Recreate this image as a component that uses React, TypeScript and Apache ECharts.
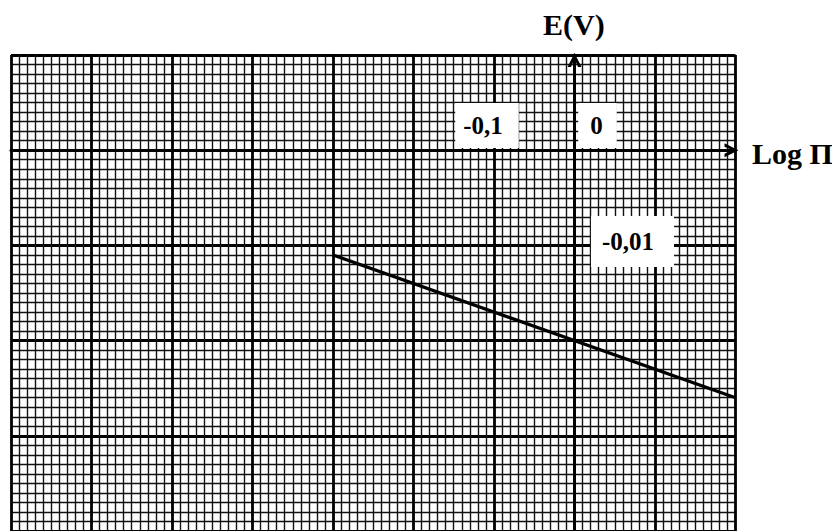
import React, { useEffect, useRef } from "react";
import * as echarts from "echarts";

// Axis ranges (Log Π on x, E in volts on y)
const xRange = [-0.7, 0.2];
const yRange = [-0.04, 0.01];
const xStep = 0.1;
const yStep = 0.01;

// The plotted straight line E = f(Log Π)
const lineX = [-0.3, 0.2];
const lineE = [-0.011, -0.026];

// Tick labels written on the paper
const tickLabels = ["-0,1", "0", "-0,01"];
const tickLabelPos = [
  [-0.1, 0.0025],
  [0, 0.0025],
  [0, -0.01],
];
const tickLabelOffset = [
  [-7, -1],
  [23, -1],
  [58, -4],
];
const tickLabelPadding = [
  [10, 16, 10, 8],
  [10, 14, 10, 12],
  [12, 20, 14, 11],
];

const xName = "Log Π";
const yName = "E(V)";

const FONT = "Liberation Serif";
const ARROW = "path://M0,14 L7,0 L14,14 L10.5,14 L7,6 L3.5,14 Z";

export default function App() {
  const ref = useRef<HTMLDivElement>(null);
  useEffect(() => {
    if (!ref.current) return;
    const chart = echarts.init(ref.current, null, { renderer: "svg" });
    const axisCommon = {
      type: "value" as const,
      axisLabel: { show: false },
      axisTick: { show: false },
      splitLine: { show: true, lineStyle: { color: "#000", width: 2.8 } },
      minorTick: { show: false, splitNumber: 10 },
      minorSplitLine: { show: true, lineStyle: { color: "#111", width: 1.4 } },
    };
    chart.setOption({
      animation: false,
      backgroundColor: "#fff",
      grid: { left: 11, right: 96.5, top: 55, bottom: -4 },
      xAxis: {
        ...axisCommon,
        min: xRange[0],
        max: xRange[1],
        interval: xStep,
        axisLine: {
          show: true,
          onZero: true,
          symbol: ["none", ARROW],
          symbolSize: [16, 14],
          symbolOffset: [0, -4],
          lineStyle: { color: "#000", width: 3 },
        },
      },
      yAxis: {
        ...axisCommon,
        min: yRange[0],
        max: yRange[1],
        interval: yStep,
        axisLine: {
          show: true,
          onZero: true,
          symbol: ["none", ARROW],
          symbolSize: [16, 14],
          symbolOffset: [0, -5],
          lineStyle: { color: "#000", width: 3 },
        },
      },
      graphic: [
        {
          type: "text",
          x: 543,
          y: 24,
          z: 10,
          style: {
            text: yName,
            fontFamily: FONT,
            fontWeight: "bold",
            fontSize: 30,
            fill: "#000",
            verticalAlign: "middle",
          },
        },
        {
          type: "text",
          x: 752,
          y: 153,
          z: 10,
          style: {
            text: xName,
            fontFamily: FONT,
            fontWeight: "bold",
            fontSize: 30,
            fill: "#000",
            verticalAlign: "middle",
          },
        },
      ],
      series: [
        {
          type: "line",
          data: lineX.map((x, i) => [x, lineE[i]]),
          symbol: "none",
          lineStyle: { color: "#000", width: 3.2 },
          z: 3,
        },
        {
          type: "scatter",
          symbolSize: 0,
          z: 5,
          itemStyle: { color: "#000", opacity: 1 },
          label: {
            show: true,
            position: "inside",
            formatter: (p: any) => p.name,
            backgroundColor: "#fff",
            color: "#000",
            opacity: 1,
            fontFamily: FONT,
            fontWeight: "bold",
            fontSize: 25,
          },
          data: tickLabels.map((t, i) => ({
            value: tickLabelPos[i],
            name: t,
            label: { offset: tickLabelOffset[i], padding: tickLabelPadding[i] },
          })),
        },
      ],
    });
    return () => chart.dispose();
  }, []);
  return (
    <div
      ref={ref}
      style={{ position: "fixed", left: 0, top: 0, width: 832, height: 531, background: "#fff" }}
    />
  );
}
